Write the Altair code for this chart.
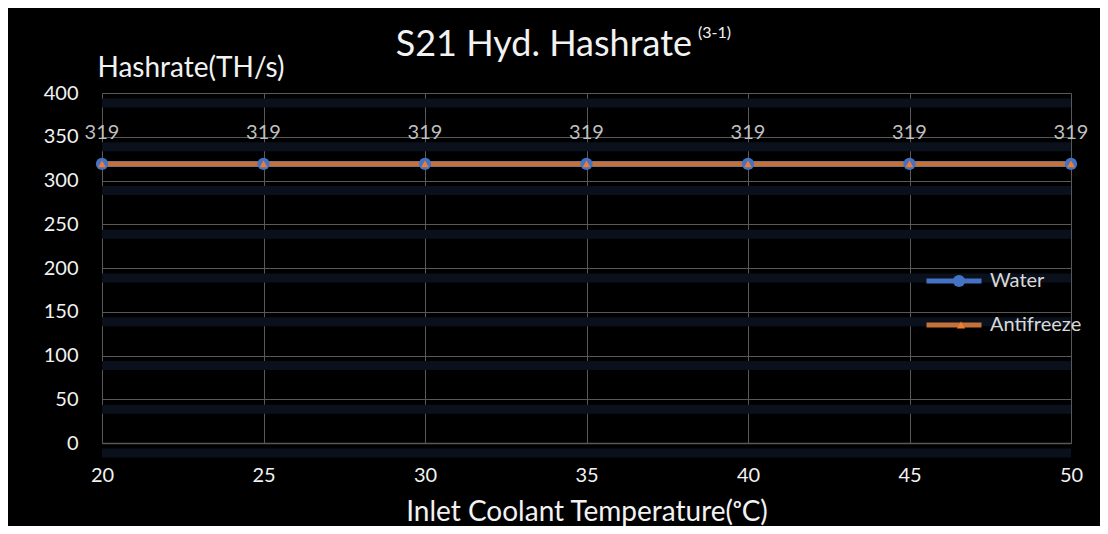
import altair as alt
import pandas as pd

temps = [20, 25, 30, 35, 40, 45, 50]
water = [319, 319, 319, 319, 319, 319, 319]
antifreeze = [319, 319, 319, 319, 319, 319, 319]
series_names = ["Water", "Antifreeze"]
x_ticks = [20, 25, 30, 35, 40, 45, 50]
y_ticks = [0, 50, 100, 150, 200, 250, 300, 350, 400]
title_main = ["S21 Hyd. Hashrate"]
title_sup = ["(3-1)"]
x_title = "Inlet Coolant Temperature(ᵒC)"
y_title = "Hashrate(TH/s)"

FONT = "Lato"
GRID = "#595959"
TXT = "#F2F2F2"
BLUE = "#4472C4"
ORANGE = "#ED7D31"
BROWN = "#C4713A"

df = pd.DataFrame({
    "temp": temps + temps,
    "value": water + antifreeze,
    "series": [series_names[0]] * len(temps) + [series_names[1]] * len(temps),
})
df["mw"] = df["series"]
df["ma"] = df["series"]
grid_df = pd.DataFrame({"tick": y_ticks})

base = alt.Chart(df)

x_enc = alt.X(
    "temp:Q",
    scale=alt.Scale(domain=[20, 50], nice=False, zero=False),
    axis=alt.Axis(
        values=x_ticks, title=x_title, grid=True, gridColor=GRID, gridWidth=1,
        domainColor=GRID, domainWidth=1.5, ticks=False, tickSize=0, labelFlush=False,
        labelFont=FONT, labelFontSize=20, labelColor=TXT, labelPadding=22,
        titleFont=FONT, titleFontSize=28, titleColor=TXT, titleFontWeight="normal",
        titleY=77, titleBaseline="alphabetic",
    ),
)
y_scale = alt.Scale(domain=[0, 400], nice=False)
y_axis = alt.Axis(
    values=y_ticks, title=y_title, grid=True, gridColor=GRID, gridWidth=1,
    domain=False, ticks=False, tickSize=0, orient="left", labelFlush=False,
    labelFont=FONT, labelFontSize=20, labelColor=TXT, labelPadding=24,
    titleFont=FONT, titleFontSize=28, titleColor=TXT, titleFontWeight="normal",
    titleAngle=0, titleAlign="left", titleBaseline="alphabetic",
    titleX=-5, titleY=-17,
)
y_enc = alt.Y("value:Q", scale=y_scale, axis=y_axis)

stroke_scale = alt.Scale(domain=series_names, range=[BLUE, BROWN])

line_legend = alt.Legend(
    title=None, orient="none", legendX=822, legendY=177, padding=0,
    symbolType="stroke", symbolSize=3025, symbolStrokeWidth=5,
    labelFont=FONT, labelFontSize=20, labelColor="#D9D9D9", labelOffset=6,
    clipHeight=22, rowPadding=22,
)
w_legend = alt.Legend(
    title=None, orient="none", legendX=847, legendY=177, padding=0,
    symbolType="circle", symbolSize=150, symbolStrokeWidth=0, symbolFillColor=BLUE,
    labelExpr="''", labelOpacity=0, labelFont=FONT, labelFontSize=20, clipHeight=22,
)
a_legend = alt.Legend(
    title=None, orient="none", legendX=849, legendY=221, padding=0,
    symbolSize=70, symbolStrokeWidth=0, symbolFillColor=ORANGE,
    labelExpr="''", labelOpacity=0, labelFont=FONT, labelFontSize=20, clipHeight=22,
)

glow = alt.Chart(grid_df).mark_rule(yOffset=10, strokeWidth=9, color="#0A111D").encode(
    y=alt.Y("tick:Q", scale=y_scale, axis=y_axis)
)

line_w = base.transform_filter(alt.datum.series == "Water").mark_line(strokeWidth=6).encode(
    x=x_enc, y=y_enc, stroke=alt.Stroke("series:N", scale=stroke_scale, legend=line_legend)
)
line_a = base.transform_filter(alt.datum.series == "Antifreeze").mark_line(strokeWidth=5).encode(
    x=x_enc, y=y_enc, stroke=alt.Stroke("series:N", scale=stroke_scale, legend=line_legend)
)
pt_w = base.transform_filter(alt.datum.series == "Water").mark_point(
    filled=True, size=150, opacity=1, shape="circle"
).encode(
    x=x_enc, y=y_enc,
    fill=alt.Fill("mw:N", scale=alt.Scale(domain=["Water"], range=[BLUE]), legend=w_legend),
)
pt_a = base.transform_filter(alt.datum.series == "Antifreeze").mark_point(
    filled=True, size=60, opacity=1, color=ORANGE
).encode(
    x=x_enc, y=y_enc,
    shape=alt.Shape("ma:N", scale=alt.Scale(domain=["Antifreeze"], range=["triangle-up"]), legend=a_legend),
)
labels = base.transform_filter(alt.datum.series == "Water").mark_text(
    dy=-31, font=FONT, fontSize=20, color="#BFBFBF"
).encode(x=x_enc, y=y_enc, text=alt.Text("value:Q"))

t_main = alt.Chart(pd.DataFrame({"t": title_main})).mark_text(
    align="right", baseline="alphabetic", font=FONT, fontSize=36, color=TXT
).encode(x=alt.value(590), y=alt.value(-37), text="t:N")
t_sup = alt.Chart(pd.DataFrame({"t": title_sup})).mark_text(
    align="left", baseline="alphabetic", font=FONT, fontSize=16, color=TXT
).encode(x=alt.value(596), y=alt.value(-55), text="t:N")

chart = alt.layer(glow, line_w, line_a, pt_w, pt_a, labels, t_main, t_sup).properties(
    width=969, height=350, background="#000000",
    padding={"left": 94, "top": 85, "right": 29, "bottom": 83},
    autosize=alt.AutoSizeParams(type="none"),
).configure_view(stroke=None)

chart.save("out.html", embed_options={"renderer": "svg", "actions": False})
